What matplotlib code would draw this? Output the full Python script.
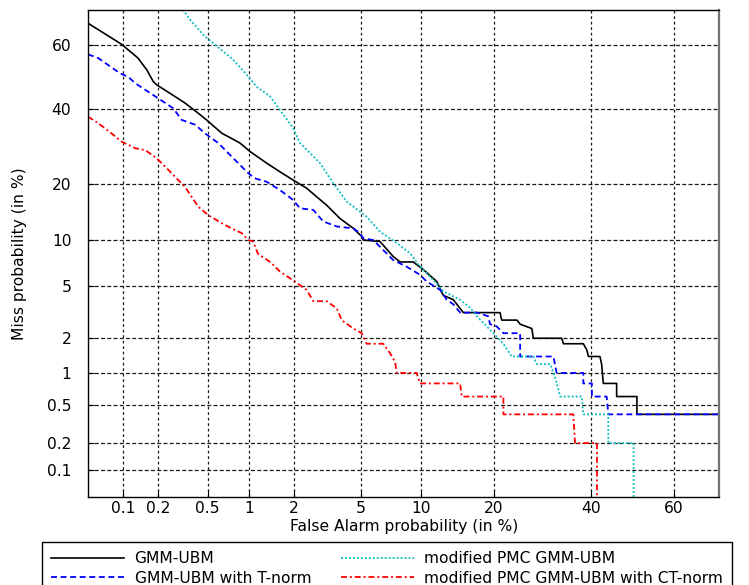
import numpy as np
import matplotlib
matplotlib.use("Agg")
import matplotlib.pyplot as plt
from statistics import NormalDist

# ---------------- data (percent) ----------------
ticks = [0.1, 0.2, 0.5, 1, 2, 5, 10, 20, 40, 60]
tick_labels = ["0.1", "0.2", "0.5", "1", "2", "5", "10", "20", "40", "60"]

gmm_fa = [0.048, 0.097, 0.135, 0.161, 0.183, 0.195, 0.277, 0.333, 0.423, 0.49,
          0.64, 0.75, 0.865, 1.02, 1.33, 1.63, 1.98, 2.41, 2.78, 3.18, 3.81,
          4.53, 5.03, 5.13, 6.29, 7.35, 7.94, 9.19, 10.24, 11.77, 12.57, 13.87,
          15.26, 21.1, 21.4, 24.2, 24.8, 27.1, 27.4, 33.4, 33.8, 38.3, 39.1,
          39.5, 42.2, 42.6, 43.0, 46.2, 46.2, 51.1, 51.1, 70.0]
gmm_miss = [66.4, 60.2, 56.0, 52.3, 48.6, 47.6, 43.9, 41.9, 38.8, 36.8,
            32.9, 31.5, 30.2, 27.9, 24.9, 22.8, 20.9, 19.1, 17.3, 15.7, 13.3,
            11.7, 10.5, 10.0, 9.8, 7.9, 7.3, 7.3, 6.5, 5.4, 4.3, 4.0,
            3.2, 3.2, 2.8, 2.8, 2.6, 2.4, 2.0, 2.0, 1.8, 1.8, 1.6,
            1.4, 1.4, 1.2, 0.8, 0.8, 0.6, 0.6, 0.4, 0.4]

tnorm_fa = [0.048, 0.060, 0.094, 0.112, 0.128, 0.195, 0.268, 0.313, 0.40, 0.476,
            0.60, 0.753, 0.99, 1.10, 1.33, 1.63, 1.98, 2.19, 2.65, 3.04, 3.65,
            4.53, 4.92, 5.13, 5.80, 6.29, 7.35, 8.55, 9.89, 10.6, 12.2, 13.0,
            13.87, 14.8, 17.25, 19.1, 19.4, 20.5, 21.7, 24.2, 24.8, 24.8, 31.6,
            32.3, 38.3, 38.3, 40.3, 40.3, 43.8, 44.2, 70.0]
tnorm_miss = [57.1, 55.9, 51.2, 50.0, 48.1, 43.7, 40.3, 36.8, 35.4, 32.9,
              30.2, 26.6, 22.5, 21.3, 20.5, 18.7, 16.7, 15.1, 14.8, 12.8, 12.0,
              11.7, 11.0, 10.25, 10.0, 9.1, 7.5, 6.8, 6.0, 5.4, 4.7, 4.0,
              3.7, 3.2, 3.2, 3.0, 2.6, 2.5, 2.2, 2.2, 2.2, 1.4, 1.4,
              1.0, 1.0, 0.8, 0.8, 0.6, 0.6, 0.4, 0.4]

pmc_fa = [0.319, 0.375, 0.476, 0.55, 0.774, 0.99, 1.13, 1.40, 1.63, 1.98,
          2.19, 2.91, 3.48, 4.15, 5.35, 6.29, 7.64, 8.87, 9.89, 11.4, 12.57,
          14.8, 16.2, 17.25, 18.85, 19.96, 21.7, 23.2, 27.4, 28.1, 30.9, 31.6,
          32.0, 33.1, 37.95, 38.3, 44.2, 44.2, 50.3, 50.3]
pmc_miss = [70.2, 66.9, 62.5, 60.5, 55.4, 50.2, 47.0, 43.9, 39.8, 34.4,
            30.2, 24.9, 20.2, 16.4, 13.6, 11.2, 9.6, 8.3, 6.8, 5.5, 4.6,
            4.0, 3.5, 3.0, 2.5, 2.2, 1.8, 1.4, 1.4, 1.2, 1.2, 1.0,
            0.9, 0.6, 0.6, 0.4, 0.4, 0.2, 0.2, 0.0]

ct_fa = [0.048, 0.060, 0.079, 0.097, 0.128, 0.156, 0.195, 0.244, 0.294, 0.333,
         0.423, 0.504, 0.64, 0.753, 0.889, 0.99, 1.07, 1.16, 1.40, 1.63, 2.03,
         2.41, 2.65, 3.18, 3.65, 3.89, 4.53, 5.03, 5.35, 6.54, 7.07, 7.5,
         7.64, 9.54, 9.89, 14.8, 15.04, 21.7, 21.7, 36.0, 36.4, 41.5, 41.5]
ct_miss = [37.8, 35.8, 32.9, 30.6, 28.8, 28.3, 26.2, 23.3, 20.9, 19.4,
           15.4, 13.9, 12.5, 11.7, 11.0, 10.0, 9.8, 8.2, 7.3, 6.3, 5.4,
           4.7, 3.9, 3.9, 3.45, 2.8, 2.4, 2.2, 1.8, 1.8, 1.5, 1.26,
           1.0, 1.0, 0.8, 0.8, 0.6, 0.6, 0.4, 0.4, 0.2, 0.2, 0.0]

labels = ["GMM-UBM", "GMM-UBM with T-norm", "modified PMC GMM-UBM",
          "modified PMC GMM-UBM with CT-norm"]

# ---------------- probit (normal deviate) scale ----------------
_nd = NormalDist()
_ppf = np.vectorize(lambda q: _nd.inv_cdf(q) if np.isfinite(q) else np.nan, otypes=[float])
_cdf = np.vectorize(lambda z: _nd.cdf(z) if np.isfinite(z) else np.nan, otypes=[float])


def fwd(p):
    p = np.asarray(p, dtype=float)
    q = np.clip(p / 100.0, 1e-7, 1 - 1e-7)
    return _ppf(q)


def inv(z):
    z = np.asarray(z, dtype=float)
    return _cdf(z) * 100.0


plt.rcParams['font.family'] = ['DejaVu Sans']
FS = 11.2

fig = plt.figure(figsize=(7.49, 5.85), dpi=100)
ax = fig.add_axes([88 / 749, 88 / 585, (719.3 - 88) / 749, (497 - 10) / 585])
ax.set_xscale('function', functions=(fwd, inv))
ax.set_yscale('function', functions=(fwd, inv))

ax.plot(gmm_fa, gmm_miss, color='black', lw=1.2, ls='-', label=labels[0])
ax.plot(tnorm_fa, tnorm_miss, color='#0000ff', lw=1.3, ls=(0, (3.3, 2.0)), label=labels[1])
ax.plot(pmc_fa, pmc_miss, color='#11bfbf', lw=1.3, ls=(0, (1.1, 1.1)), label=labels[2])
ax.plot(ct_fa, ct_miss, color='#ff0000', lw=1.3, ls=(0, (3.3, 1.6, 1.1, 1.6)), label=labels[3])

ax.set_xlim(0.048, 70.1)
ax.set_ylim(0.048, 70.1)
ax.set_xticks(ticks)
ax.set_xticklabels(tick_labels)
ax.set_yticks(ticks)
ax.set_yticklabels(tick_labels)
ax.minorticks_off()

ax.xaxis.grid(True, color='0.1', lw=0.9, ls=(0, (2.2, 2.2)))
ax.yaxis.grid(True, color='0.1', lw=0.9, ls=(0, (3.2, 1.8)))
ax.set_axisbelow(True)
ax.tick_params(direction='in', length=4, width=0.8, labelsize=FS)
ax.tick_params(axis='x', pad=3)
ax.tick_params(axis='y', pad=12)
for s in ax.spines.values():
    s.set_linewidth(1.0)
    s.set_color('black')
ax.spines['right'].set_color('0.45')
ax.spines['right'].set_linewidth(1.6)

ax.set_xlabel("False Alarm probability (in %)", fontsize=FS, labelpad=2)
ax.set_ylabel("Miss probability (in %)", fontsize=FS, labelpad=14)

leg = fig.legend(loc='upper left', bbox_to_anchor=(41.7 / 749, 1 - 541.7 / 585),
                 ncol=2, fontsize=FS, frameon=True, fancybox=False, shadow=False,
                 framealpha=1, edgecolor='black', borderaxespad=0,
                 handlelength=4.7, handletextpad=0.65, columnspacing=1.9,
                 labelspacing=0.28, borderpad=0.62)
leg.get_frame().set_linewidth(1.0)

fig.savefig("out.png", dpi=100)
